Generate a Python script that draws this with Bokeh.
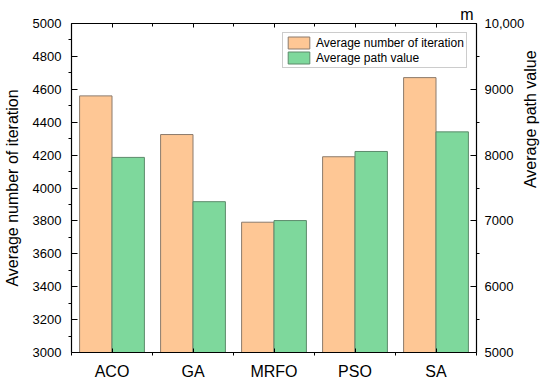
import math
from bokeh.plotting import figure
from bokeh.models import (Range1d, LinearAxis, FixedTicker, Legend, LegendItem,
                          ColumnDataSource)
from bokeh.embed import file_html
from bokeh.resources import INLINE

categories = ["ACO", "GA", "MRFO", "PSO", "SA"]
avg_iterations = [4560, 4325, 3792, 4190, 4671]
avg_path = [7965, 7292, 7005, 8055, 8353]
left_ticks = [3000, 3200, 3400, 3600, 3800, 4000, 4200, 4400, 4600, 4800, 5000]
right_ticks = [5000, 6000, 7000, 8000, 9000, 10000]
right_tick_labels = ["5000", "6000", "7000", "8000", "9000", "10,000"]

FONT = "Liberation Sans"
ORANGE = "#FEC795"
GREEN = "#7ED89C"

n = len(categories)
centers = [i + 0.5 for i in range(n)]
src = ColumnDataSource(dict(
    x1=[c - 0.2 for c in centers],
    x2=[c + 0.2 for c in centers],
    it=avg_iterations,
    path=avg_path,
))

p = figure(width=550, height=384, output_backend="svg", toolbar_location=None,
           x_range=Range1d(0, n), y_range=Range1d(3000, 5000),
           min_border_left=70, min_border_right=73, min_border_top=23, min_border_bottom=32,
           x_axis_location=None, y_axis_location=None, title="m")
p.xgrid.visible = False
p.ygrid.visible = False
p.outline_line_color = None
p.background_fill_color = "white"
p.border_fill_color = "white"

p.title.align = "right"
p.title.offset = 3
p.title.standoff = 1
p.title.text_font = FONT
p.title.text_font_size = "16px"
p.title.text_font_style = "normal"
p.title.text_color = "black"

p.extra_y_ranges = {"path": Range1d(5000, 10000)}

r1 = p.vbar(x="x1", top="it", bottom=3000, width=0.4, source=src,
            fill_color=ORANGE, line_color="#8c7b6c", line_width=1)
r2 = p.vbar(x="x2", top="path", bottom=5000, width=0.4, source=src, y_range_name="path",
            fill_color=GREEN, line_color="#5c8a6b", line_width=1)

def style(ax):
    ax.axis_line_color = "black"
    ax.axis_line_width = 1.2
    ax.major_tick_line_color = "black"
    ax.minor_tick_line_color = "black"
    ax.major_label_text_font = FONT
    ax.major_label_text_color = "black"
    ax.axis_label_text_font = FONT
    ax.axis_label_text_font_style = "normal"
    ax.axis_label_text_color = "black"
    ax.axis_label_text_font_size = "16px"

# bottom axis
xb = LinearAxis(ticker=FixedTicker(ticks=centers, minor_ticks=list(range(n + 1))))
style(xb)
xb.major_label_overrides = {c: cat for c, cat in zip(centers, categories)}
xb.major_label_text_font_size = "16px"
xb.major_tick_in = 4
xb.major_tick_out = 0
xb.minor_tick_in = 0
xb.minor_tick_out = 3
xb.major_label_standoff = 7
p.add_layout(xb, "below")

# top axis (ticks only)
xt = LinearAxis(ticker=FixedTicker(ticks=centers, minor_ticks=list(range(n + 1))))
style(xt)
xt.major_label_text_color = None
xt.major_label_text_font_size = "1px"
xt.major_tick_in = 4
xt.major_tick_out = 0
xt.minor_tick_in = 3
xt.minor_tick_out = 0
xt.major_label_standoff = 0
p.add_layout(xt, "above")

# left axis
yl = LinearAxis(ticker=FixedTicker(ticks=left_ticks,
                                   minor_ticks=[v + 100 for v in left_ticks[:-1]]),
                axis_label="Average number of iteration")
style(yl)
yl.major_label_text_font_size = "13px"
yl.major_tick_in = 6
yl.major_tick_out = 0
yl.minor_tick_in = 0
yl.minor_tick_out = 3
yl.major_label_standoff = 7
yl.axis_label_standoff = 9
p.add_layout(yl, "left")

# right axis
yr = LinearAxis(y_range_name="path",
                ticker=FixedTicker(ticks=right_ticks,
                                   minor_ticks=[v + 500 for v in right_ticks[:-1]]),
                axis_label="Average path value")
style(yr)
yr.major_label_overrides = {v: s for v, s in zip(right_ticks, right_tick_labels)}
yr.major_label_text_font_size = "13px"
yr.major_tick_in = 6
yr.major_tick_out = 0
yr.minor_tick_in = 0
yr.minor_tick_out = 3
yr.major_label_standoff = 5
yr.axis_label_standoff = 3
yr.axis_label_orientation = math.pi / 2
p.add_layout(yr, "right")

legend = Legend(items=[LegendItem(label="Average number of iteration", renderers=[r1]),
                       LegendItem(label="Average path value", renderers=[r2])],
                location=(211, 284), orientation="vertical")
legend.label_text_font = FONT
legend.label_text_font_size = "12px"
legend.label_text_color = "black"
legend.glyph_width = 27
legend.glyph_height = 15
legend.label_height = 15
legend.label_standoff = 4
legend.spacing = 0
legend.padding = 2
legend.margin = 0
legend.border_line_color = "#9a9a9a"
legend.border_line_width = 1
legend.background_fill_alpha = 1
p.add_layout(legend, "center")

open("out.html", "w").write(file_html(p, INLINE))
